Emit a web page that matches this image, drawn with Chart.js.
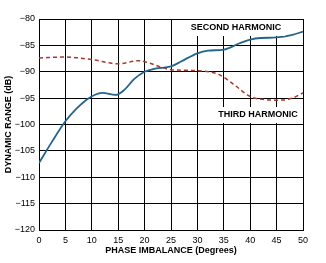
<!DOCTYPE html>
<html>
<head>
<meta charset="utf-8">
<script src="https://cdn.jsdelivr.net/npm/chart.js@4/dist/chart.umd.min.js"></script>
<style>
  html, body { margin: 0; padding: 0; background: #fff; }
  #wrap { width: 326px; height: 263px; position: relative; }
</style>
</head>
<body>
<div id="wrap"><canvas id="chart"></canvas></div>
<script>
// Données
const secondX = [0, 2.5, 5, 7, 9, 10.5, 12, 14.5, 16.2, 18, 20, 22, 25, 27, 30, 32, 35, 38, 40, 42, 45, 48, 50];
const secondY = [-107.3, -103.2, -99.4, -97.1, -95.3, -94.4, -94.0, -94.4, -93.4, -91.4, -90.0, -89.4, -89.0, -88.0, -86.5, -86.0, -85.8, -84.6, -83.9, -83.6, -83.5, -83.0, -82.4];
const thirdX = [0, 5, 10, 15, 19, 21, 25, 30, 34, 37, 40, 43, 45, 48, 50];
const thirdY = [-87.4, -87.2, -87.7, -88.5, -87.9, -88.4, -89.6, -89.8, -90.5, -92.5, -94.7, -95.3, -95.4, -95.0, -94.0];
const xTicks = [0, 5, 10, 15, 20, 25, 30, 35, 40, 45, 50];
const yTicks = [-80, -85, -90, -95, -100, -105, -110, -115, -120];

// Étiquettes des courbes (texte, position en données)
const curveLabels = [
    { text: "SECOND HARMONIC", x: 37.3, y: -81.7 },
    { text: "THIRD HARMONIC", x: 41.5, y: -98.2 },
];

function toPoints(xs, ys) {
    return xs.map((x, i) => ({ x: x, y: ys[i] }));
}

// Plugin pour dessiner les étiquettes avec fond blanc
const labelPlugin = {
    id: "curveLabels",
    afterDatasetsDraw(chart) {
        const ctx = chart.ctx;
        const xs = chart.scales.x;
        const ys = chart.scales.y;
        ctx.save();
        ctx.font = "bold 9px 'Liberation Sans', Arial, sans-serif";
        ctx.textAlign = "center";
        ctx.textBaseline = "middle";
        curveLabels.forEach((l) => {
            const px = xs.getPixelForValue(l.x);
            const py = ys.getPixelForValue(l.y);
            const w = ctx.measureText(l.text).width;
            ctx.fillStyle = "#fff";
            ctx.fillRect(px - w / 2 - 4, py - 8, w + 8, 16);
            ctx.fillStyle = "#000";
            ctx.fillText(l.text, px, py);
        });
        ctx.restore();
    },
};

const ctx = document.getElementById("chart").getContext("2d");
const chart = new Chart(ctx, {
    type: "line",
    data: {
        datasets: [
            {
                label: "Second harmonic",
                data: toPoints(secondX, secondY),
                borderColor: "#22648a",
                borderWidth: 1.8,
                pointRadius: 0,
                cubicInterpolationMode: "monotone",
                fill: false,
            },
            {
                label: "Third harmonic",
                data: toPoints(thirdX, thirdY),
                borderColor: "#a8382e",
                borderWidth: 1.5,
                borderDash: [4, 3],
                pointRadius: 0,
                cubicInterpolationMode: "monotone",
                fill: false,
            },
        ],
    },
    options: {
        responsive: true,
        maintainAspectRatio: false,
        animation: false,
        layout: { padding: { top: 19, right: 23, left: 3, bottom: 7 } },
        plugins: { legend: { display: false }, tooltip: { enabled: false } },
        scales: {
            x: {
                type: "linear",
                min: 0,
                max: 50,
                afterBuildTicks: (s) => { s.ticks = xTicks.map((v) => ({ value: v })); },
                afterFit: (s) => { s.height = 26; },
                grid: { color: "#000", lineWidth: 1, drawTicks: false },
                border: { color: "#000", width: 1 },
                ticks: {
                    color: "#000",
                    padding: 5,
                    maxRotation: 0,
                    font: { family: "'Liberation Sans', Arial, sans-serif", size: 9 },
                },
                title: {
                    display: true,
                    text: "PHASE IMBALANCE (Degrees)",
                    color: "#000",
                    padding: { top: 1, bottom: 0 },
                    font: { family: "'Liberation Sans', Arial, sans-serif", size: 9, weight: "bold" },
                },
            },
            y: {
                min: -120,
                max: -80,
                afterBuildTicks: (s) => { s.ticks = yTicks.map((v) => ({ value: v })); },
                afterFit: (s) => { s.width = 36; },
                grid: { color: "#000", lineWidth: 1, drawTicks: false },
                border: { color: "#000", width: 1 },
                ticks: {
                    color: "#000",
                    padding: 4,
                    font: { family: "'Liberation Sans', Arial, sans-serif", size: 9 },
                    callback: (v) => String(v).replace("-", "\u2212"),
                },
                title: {
                    display: true,
                    text: "DYNAMIC RANGE (dB)",
                    color: "#000",
                    padding: { top: 0, bottom: 0 },
                    font: { family: "'Liberation Sans', Arial, sans-serif", size: 9, weight: "bold" },
                },
            },
        },
    },
    plugins: [labelPlugin],
});
</script>
</body>
</html>
